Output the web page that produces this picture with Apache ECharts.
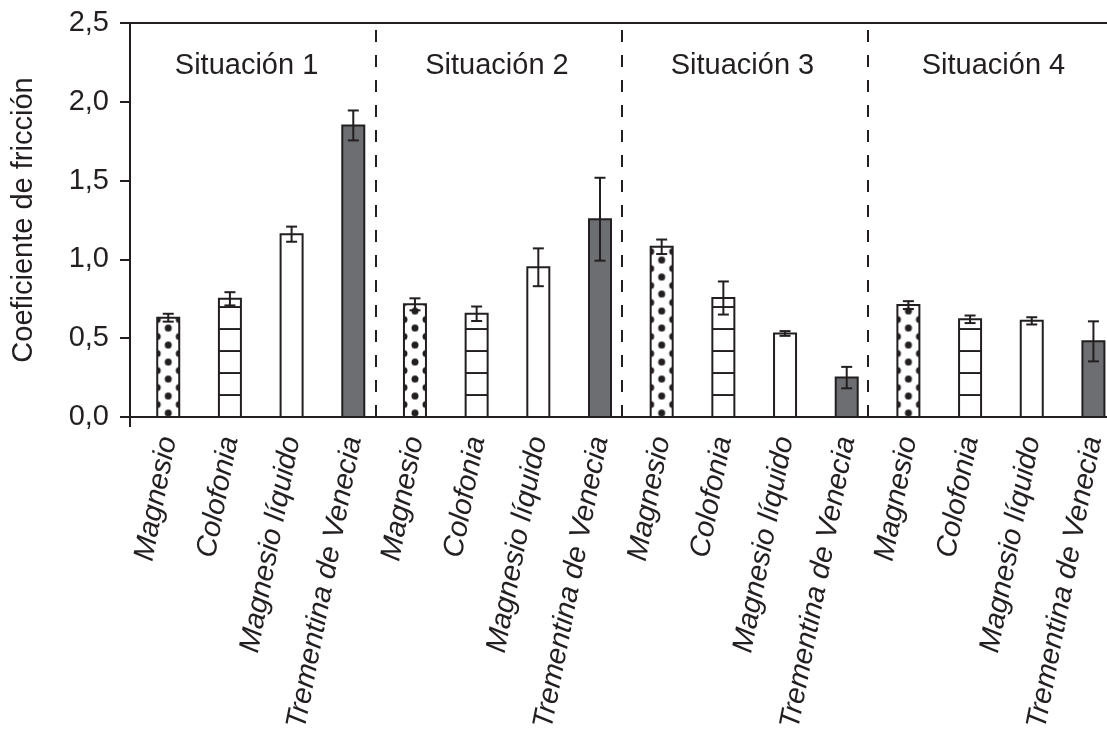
<!DOCTYPE html>
<html>
<head>
<meta charset="utf-8">
<script src="https://cdn.jsdelivr.net/npm/echarts@6/dist/echarts.min.js"></script>
<style>
  html, body { margin: 0; padding: 0; background: #fff; }
  #chart { width: 1107px; height: 731px; }
</style>
</head>
<body>
<div id="chart"></div>
<script>
// datos
const situaciones = ['Situación 1', 'Situación 2', 'Situación 3', 'Situación 4'];
const productos = ['Magnesio', 'Colofonia', 'Magnesio líquido', 'Trementina de Venecia'];
const categorias = [].concat(productos, productos, productos, productos);
const medias = [0.63, 0.75, 1.16, 1.85, 0.715, 0.655, 0.95, 1.255, 1.08, 0.755, 0.53, 0.25, 0.71, 0.62, 0.61, 0.48];
const errores = [0.025, 0.042, 0.048, 0.095, 0.038, 0.046, 0.12, 0.263, 0.046, 0.105, 0.015, 0.068, 0.025, 0.024, 0.023, 0.127];
const separadores = [3.37, 7.35, 11.34];
const posSituaciones = [1.27, 5.33, 9.31, 13.38];
const yEtiqueta = 2.23;

const X_MIN = -0.62;
const X_MAX = 15.22;
const negro = '#231f20';
const gris = '#6d6e71';
const fuente = '"Liberation Sans", Arial, sans-serif';
const tam = 29;

// patrones de relleno
function patronPuntos() {
  const c = document.createElement('canvas');
  c.width = 22; c.height = 17;
  const ctx = c.getContext('2d');
  ctx.fillStyle = '#fff';
  ctx.fillRect(0, 0, 22, 17);
  ctx.fillStyle = negro;
  [[0, 0], [22, 0], [0, 17], [22, 17], [11, 8.5]].forEach(([x, y]) => {
    ctx.beginPath();
    ctx.arc(x, y, 3.5, 0, Math.PI * 2);
    ctx.fill();
  });
  return c;
}
function patronRayas() {
  const c = document.createElement('canvas');
  c.width = 4; c.height = 22;
  const ctx = c.getContext('2d');
  ctx.fillStyle = '#fff';
  ctx.fillRect(0, 0, 4, 22);
  ctx.fillStyle = negro;
  ctx.fillRect(0, 0, 4, 1);
  ctx.fillRect(0, 21, 4, 1);
  return c;
}
const puntos = patronPuntos();
const rayas = patronRayas();

const chart = echarts.init(document.getElementById('chart'), null, { renderer: 'canvas' });

const option = {
  animation: false,
  backgroundColor: '#fff',
  textStyle: { fontFamily: fuente, color: negro },
  grid: { left: 130, right: 0, top: 23, bottom: 314, outerBoundsMode: 'none', containLabel: false },
  xAxis: [
    {
      type: 'value',
      min: X_MIN,
      max: X_MAX,
      position: 'bottom',
      splitLine: { show: false },
      axisLine: { show: true, onZero: false, lineStyle: { color: negro, width: 2 } },
      axisTick: { show: true, customValues: [X_MIN], length: 10, lineStyle: { color: negro, width: 2 } },
      axisLabel: {
        customValues: categorias.map((_, i) => i),
        formatter: v => categorias[Math.round(v)],
        rotate: 79,
        margin: 20,
        fontSize: tam,
        fontStyle: 'italic',
        fontFamily: fuente,
        color: negro,
      },
    },
    {
      type: 'value',
      min: X_MIN,
      max: X_MAX,
      position: 'top',
      splitLine: { show: false },
      axisLine: { show: true, onZero: false, lineStyle: { color: negro, width: 2 } },
      axisTick: { show: false },
      axisLabel: { show: false },
    },
  ],
  yAxis: {
    type: 'value',
    min: 0,
    max: 2.5,
    interval: 0.5,
    name: 'Coeficiente de fricción',
    nameLocation: 'middle',
    nameGap: 92,
    nameTextStyle: { fontSize: tam, fontFamily: fuente, color: negro },
    splitLine: { show: false },
    axisLine: { show: true, onZero: false, lineStyle: { color: negro, width: 2 } },
    axisTick: { show: true, length: 10, lineStyle: { color: negro, width: 2 } },
    axisLabel: {
      formatter: v => v.toFixed(1).replace('.', ','),
      fontSize: tam,
      margin: 21,
      fontFamily: fuente,
      color: negro,
    },
  },
  series: [
    {
      name: 'barras',
      type: 'custom',
      data: medias.map((v, i) => [i, v]),
      renderItem(params, api) {
        const i = api.value(0);
        const top = api.coord([i, api.value(1)]);
        const base = api.coord([i, 0]);
        const w = 22;
        const x = top[0] - w / 2;
        const h = base[1] - top[1];
        const tipo = i % 4;
        let fill;
        if (tipo === 0) fill = { image: puntos, repeat: 'repeat', x: top[0] - 11, y: base[1] - 12.5 };
        else if (tipo === 1) fill = { image: rayas, repeat: 'repeat', x: x, y: base[1] };
        else if (tipo === 2) fill = '#fff';
        else fill = gris;
        return {
          type: 'rect',
          shape: { x: x, y: top[1], width: w, height: h },
          style: { fill: fill, stroke: negro, lineWidth: 2 },
        };
      },
      markLine: {
        silent: true,
        symbol: 'none',
        label: { show: false },
        lineStyle: { type: [12, 13], width: 2, color: negro },
        data: separadores.map(v => ({ xAxis: v })),
      },
      z: 2,
    },
    {
      name: 'error',
      type: 'custom',
      data: medias.map((v, i) => [i, v, errores[i]]),
      renderItem(params, api) {
        const i = api.value(0);
        const m = api.value(1);
        const e = api.value(2);
        const hi = api.coord([i, m + e]);
        const lo = api.coord([i, m - e]);
        const cap = 5.5;
        const st = { stroke: negro, lineWidth: 2 };
        return {
          type: 'group',
          children: [
            { type: 'line', shape: { x1: hi[0], y1: hi[1], x2: lo[0], y2: lo[1] }, style: st },
            { type: 'line', shape: { x1: hi[0] - cap, y1: hi[1], x2: hi[0] + cap, y2: hi[1] }, style: st },
            { type: 'line', shape: { x1: lo[0] - cap, y1: lo[1], x2: lo[0] + cap, y2: lo[1] }, style: st },
          ],
        };
      },
      z: 3,
    },
    {
      name: 'situaciones',
      type: 'custom',
      data: posSituaciones.map(x => [x, yEtiqueta]),
      renderItem(params, api) {
        const p = api.coord([api.value(0), api.value(1)]);
        return {
          type: 'text',
          x: p[0],
          y: p[1],
          style: {
            text: situaciones[params.dataIndex],
            fontSize: tam,
            fontFamily: fuente,
            fill: negro,
            align: 'center',
            verticalAlign: 'middle',
          },
        };
      },
      z: 4,
    },
  ],
};

chart.setOption(option);
window.addEventListener('resize', chart.resize);
</script>
</body>
</html>
